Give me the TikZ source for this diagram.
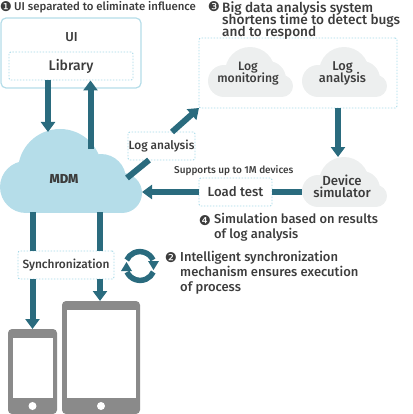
\documentclass[tikz,border=0pt]{standalone}
\usepackage{fontspec}
\setmainfont{Fira Sans Medium}
\newfontfamily\dv{DejaVu Sans}
\usetikzlibrary{arrows.meta}
\definecolor{teal}{HTML}{2A6B7E}
\definecolor{skyb}{HTML}{B5DDE9}
\definecolor{dotb}{HTML}{A5D9E8}
\definecolor{cgray}{HTML}{EDEFEF}
\definecolor{dev}{HTML}{8A8A8A}
\definecolor{ink}{HTML}{3C3C3C}
\lineskiplimit=-10pt
\tikzset{
 dotbox/.style={draw=dotb,line width=0.9pt,dash pattern=on 1.5pt off 1.5pt,rounded corners=2pt,fill=white,inner sep=0pt,text=ink,font=\fontsize{11.9}{12}\selectfont},
 arr/.style={draw=teal,line width=6pt,-{Triangle[width=14pt,length=10pt]}},
 shaft/.style={draw=teal,line width=6pt},
 lab/.style={anchor=west,text=ink,inner sep=0pt,font=\fontsize{11.4}{15}\selectfont},
 num/.style={anchor=center,text=ink,inner sep=0pt,font=\dv\fontsize{13.5}{13.5}\selectfont},
 cl/.style={text=ink,inner sep=0pt,align=center,font=\fontsize{12.4}{12}\selectfont},
 device/.style={fill=dev,rounded corners=4pt},
}
\newcommand{\graycloud}[2]{%
 \begin{scope}[shift={(#1,#2)}]
  \fill[cgray] (16,34) circle[radius=16];
  \fill[cgray] (42,25) circle[radius=25];
  \fill[cgray] (60,32) circle[radius=18];
  \fill[cgray] (74,39) circle[radius=11];
  \fill[cgray] (16,30) rectangle (74,50);
 \end{scope}}
\begin{document}
\begin{tikzpicture}[x=1pt,y=-1pt]
\useasboundingbox (0,0) rectangle (412,414);
% clouds
\fill[skyb] (26,187) circle[radius=26];
\fill[skyb] (60,171) circle[radius=42];
\fill[skyb] (101,179) circle[radius=25];
\fill[skyb] (122,193) circle[radius=20];
\fill[skyb] (26,185) rectangle (122,213);
\node[cl,font=\fontsize{13}{13}\selectfont\bfseries] (mdm) at (64,179) {MDM};
\graycloud{208}{47}\node[cl,font=\fontsize{12.2}{12}\selectfont] (mon) at (248,73.5) {Log\\monitoring};
\graycloud{302}{47}\node[cl,font=\fontsize{12.8}{12}\selectfont] (ana) at (342.5,73.5) {Log\\analysis};
\graycloud{302}{157}\node[cl,font=\fontsize{13.2}{12}\selectfont] (sim) at (342,186) {Device\\simulator};
% boxes
\draw[skyb,line width=1.2pt,fill=white,rounded corners=5pt] (1,18) rectangle (141,88);
\node[cl,font=\fontsize{13}{13}\selectfont] (ui) at (71.5,37) {UI};
\node[dotbox,font=\fontsize{14}{14}\selectfont,minimum width=124pt,minimum height=28pt] (lib) at (71,66) {Library};
\node[dotbox,minimum width=198pt,minimum height=70pt,fill=none] (big) at (298,73) {};
\node[dotbox,minimum width=67pt,minimum height=28pt] (logb) at (161.5,146) {Log analysis};
\node[dotbox,font=\fontsize{13.2}{13}\selectfont,minimum width=73pt,minimum height=28pt] (load) at (235.5,192) {Load test};
\node[dotbox,minimum width=96pt,minimum height=28pt] (syn) at (66,265) {Synchronization};
% devices
\fill[device] (8,329) rectangle (57,414);
\fill[white] (12.5,338) rectangle (53,398);
\fill[white] (32.5,406) circle[radius=4];
\fill[device] (62,301) rectangle (140,414);
\fill[white] (66.5,310) rectangle (136,398);
\fill[white] (101,406) circle[radius=4];
% named connector ends
\coordinate (phone) at (32.5,329);
\coordinate (tablet) at (100,301);
\coordinate (mdmA) at (48,132);
\coordinate (mdmB) at (90.5,149);
\coordinate (mdmC) at (127,178);
\coordinate (mdmD) at (142,192);
\coordinate (mdmE) at (32.5,212);
\coordinate (mdmF) at (100,212);
\coordinate (logA) at (149,160);
\coordinate (logB) at (172,132);
\coordinate (bigA) at (199,108);
\coordinate (simT) at (338,157);
\coordinate (simL) at (302,192);
% connectors
\draw[arr] (lib.south -| mdmA) -- (mdmA);
\draw[arr] (mdmB) -- (mdmB |- lib.south);
\draw[shaft] (mdmC) -- (logA);
\draw[arr] (logB) -- (bigA);
\draw[arr] (big.south -| simT) -- (simT);
\draw[shaft] (simL) -- (load.east);
\draw[arr] (load.west) -- (mdmD);
\draw[shaft] (mdmE) -- (syn.north -| mdmE);
\draw[arr] (syn.south -| phone) -- (phone);
\draw[shaft] (mdmF) -- (syn.north -| mdmF);
\draw[arr] (syn.south -| tablet) -- (tablet);
% sync icon
\draw[teal,line width=5.5pt] (153,260) arc[start angle=335,end angle=205,radius=14.5];
\fill[teal] (148,261) -- (159,261) -- (153.5,270) -- cycle;
\draw[teal,line width=5.5pt] (127,272) arc[start angle=155,end angle=25,radius=14.5];
\fill[teal] (121,271) -- (132,271) -- (126.5,262) -- cycle;
% labels
\node[num] (n1) at (6,7) {❶};
\node[lab] (t1) at (14,7) {UI separated to eliminate influence};
\node[num] (n3) at (214,7) {❸};
\node[lab,align=left,anchor=north west,font=\fontsize{13.6}{12}\selectfont] (t3) at (222,1) {Big data analysis system\\shortens time to detect bugs\\and to respond};
\node[lab,font=\fontsize{10}{12}\selectfont] (sup) at (174,171) {Supports up to 1M devices};
\node[num] (n4) at (205,221) {❹};
\node[lab,align=left,anchor=north west,font=\fontsize{12.9}{15}\selectfont] (t4) at (214,213) {Simulation based on results\\of log analysis};
\node[num] (n2) at (171,258) {❷};
\node[lab,align=left,anchor=north west,font=\fontsize{13}{15}\selectfont] (t2) at (180,251) {Intelligent synchronization\\mechanism ensures execution\\of process};
\end{tikzpicture}
\end{document}
